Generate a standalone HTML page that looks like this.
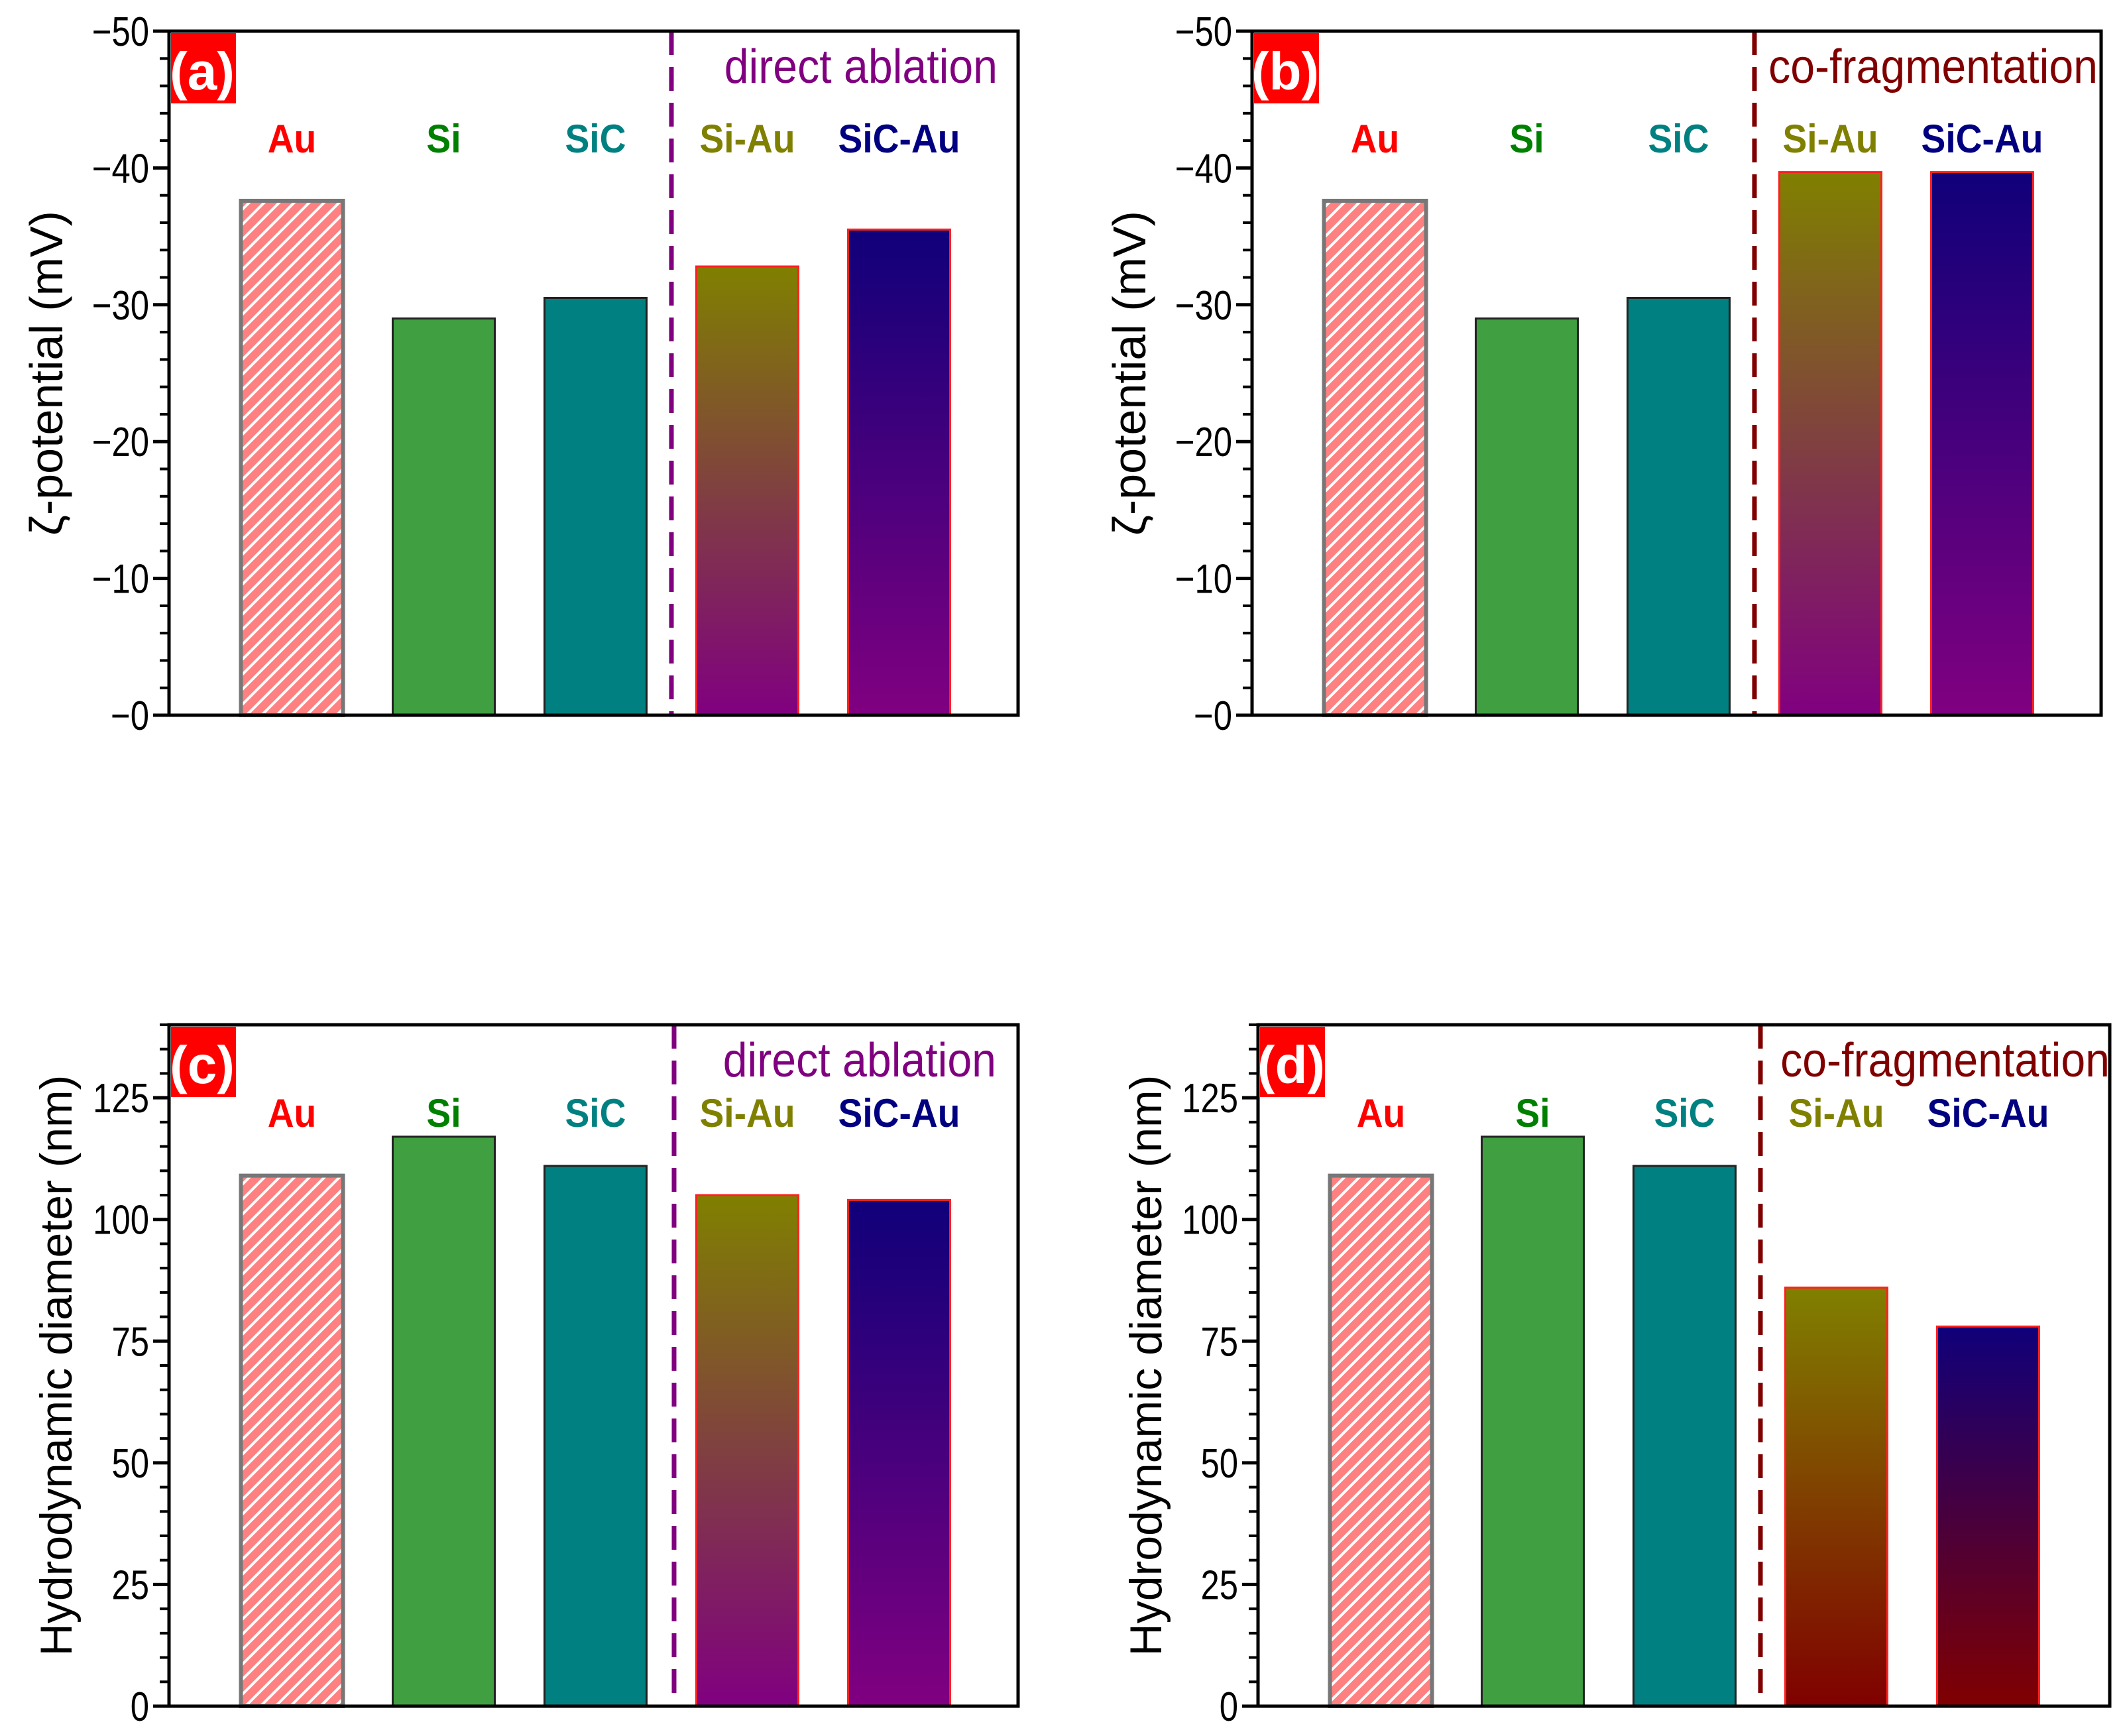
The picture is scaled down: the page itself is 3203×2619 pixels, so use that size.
<!DOCTYPE html>
<html><head><meta charset="utf-8"><style>
html,body{margin:0;padding:0;background:#fff;}
svg{display:block;}
text{font-family:"Liberation Sans",sans-serif;}
</style></head><body>
<svg id="fig" width="3203" height="2619" viewBox="0 0 3203 2619" xmlns="http://www.w3.org/2000/svg">
<defs>
<pattern id="hatch" patternUnits="userSpaceOnUse" width="16" height="16" patternTransform="rotate(45)">
<rect width="16" height="16" fill="#ff8080"/><rect x="0" y="0" width="4" height="16" fill="#fff"/>
</pattern>
<linearGradient id="gSiAu" x1="0" y1="0" x2="0" y2="1"><stop offset="0" stop-color="#808000"/><stop offset="1" stop-color="#800080"/></linearGradient>
<linearGradient id="gSiCAu" x1="0" y1="0" x2="0" y2="1"><stop offset="0" stop-color="#10007a"/><stop offset="1" stop-color="#800080"/></linearGradient>
<linearGradient id="gSiAuD" x1="0" y1="0" x2="0" y2="1"><stop offset="0" stop-color="#808000"/><stop offset="1" stop-color="#800000"/></linearGradient>
<linearGradient id="gSiCAuD" x1="0" y1="0" x2="0" y2="1"><stop offset="0" stop-color="#10007a"/><stop offset="1" stop-color="#800000"/></linearGradient>
</defs>
</svg>
<script>
const categories = ["Au","Si","SiC","Si-Au","SiC-Au"];
const zetaA = [-37.6,-29.0,-30.5,-32.8,-35.5];
const zetaB = [-37.6,-29.0,-30.5,-39.7,-39.7];
const diamC = [109,117,111,105,104];
const diamD = [109,117,111,86,78];
const zetaTicks = [0,-10,-20,-30,-40,-50];
const zetaTickLabels = ["\u22120","\u221210","\u221220","\u221230","\u221240","\u221250"];
const diamTicks = [0,25,50,75,100,125];
const diamTickLabels = ["0","25","50","75","100","125"];

const NS="http://www.w3.org/2000/svg";
const svg=document.getElementById('fig');
function mk(tag,attrs,parent){const e=document.createElementNS(NS,tag);for(const k in attrs)e.setAttribute(k,attrs[k]);(parent||svg).appendChild(e);return e;}
function ctext(x,y,sx,attrs,parent){attrs.x=0;attrs.y=0;attrs.transform=`translate(${x} ${y}) scale(${sx} 1)`;return mk('text',attrs,parent);}

const catColors=["#ff0000","#008000","#008080","#808000","#000080"];
function panel(p){
  const g=mk('g',{});
  
  
  const L=p.left,R=p.right,T=p.top,B=p.bottom;
  const y=v=>B-(v-p.ymin)/(p.ymax-p.ymin)*(B-T);
  const step=229;
  const x=i=>L+(i+p.off)*step;
  const bw=154;
  p.values.forEach((v,i)=>{
    let fill,stroke,sw=3;
    if(i===0){fill="url(#hatch)";stroke="#777";sw=6;}
    else if(i===1){fill="#409f40";stroke="#222";}
    else if(i===2){fill="#008080";stroke="#222";}
    else if(i===3){fill=p.grad[0];stroke="#ff2020";}
    else {fill=p.grad[1];stroke="#ff2020";}
    const r=mk('rect',{x:x(i)-bw/2,y:y(v),width:bw,height:y(p.ymin)-y(v),fill:fill,stroke:stroke,'stroke-width':sw},g);
    
    
  });
  categories.forEach((c,i)=>{
    const t=ctext(x(i),p.catY+2,0.92,{'text-anchor':'middle','font-size':60,'font-weight':'bold',fill:catColors[i]},g);
    t.textContent=c;
    
    
  });
  const dl=mk('line',{x1:x(2.5)+p.dx,x2:x(2.5)+p.dx,y1:T,y2:B,stroke:p.dashColor,'stroke-width':7,'stroke-dasharray':'36,18'},g);
  
  
  const gt=ctext(p.groupX,T+78,0.92,{'text-anchor':'end','font-size':72,fill:p.dashColor},g);
  gt.textContent=p.groupText;
  
  
  const box=mk('rect',{x:L,y:T,width:R-L,height:B-T,fill:'none',stroke:'#000','stroke-width':5},g);
  
  
  const n=Math.round((p.ymax-p.ymin)/p.minor);
  for(let k=0;k<=n;k++){const v=p.ymin+k*p.minor;
    mk('line',{x1:L-14,x2:L,y1:y(v),y2:y(v),stroke:'#000','stroke-width':4},g);
  }
  p.ticks.forEach((v,i)=>{
    const tl=mk('line',{x1:L-24,x2:L,y1:y(v),y2:y(v),stroke:'#000','stroke-width':5},g);
    
    
    const tx=ctext(L-30,y(v)+22,0.82,{'text-anchor':'end','font-size':62,fill:'#000'},g);
    tx.textContent=p.tickLabels[i];
    
    
  });
  const cy=(T+B)/2;
  const yt=mk('text',{x:0,y:0,'text-anchor':'middle','font-size':p.titleSize,fill:'#000',transform:`translate(${p.titleX} ${cy}) rotate(-90)`},g);
  yt.textContent=p.title;
  
  
  const pr=mk('rect',{x:L+3,y:T+3,width:98,height:106,fill:'#ff0000'},g);
  
  
  const pt=mk('text',{x:L+50,y:T+88,'text-anchor':'middle','font-size':80,'font-weight':'bold',fill:'#fff'},g);
  pt.textContent='('+p.id+')';
  
  
}
const zt="\u03B6-potential (mV)", dt="Hydrodynamic diameter (nm)";
panel({id:'a',left:255,right:1536,top:47,bottom:1079,ymin:0,ymax:-50,minor:-2,ticks:zetaTicks,tickLabels:zetaTickLabels,values:zetaA,off:0.81,dx:0,grad:["url(#gSiAu)","url(#gSiCAu)"],dashColor:'#800080',groupText:'direct ablation',groupX:1505,catY:228,title:zt,titleX:94,titleSize:70});
panel({id:'b',left:1889,right:3170,top:47,bottom:1079,ymin:0,ymax:-50,minor:-2,ticks:zetaTicks,tickLabels:zetaTickLabels,values:zetaB,off:0.81,dx:0,grad:["url(#gSiAu)","url(#gSiCAu)"],dashColor:'#800000',groupText:'co-fragmentation',groupX:3165,catY:228,title:zt,titleX:1728,titleSize:70});
panel({id:'c',left:255,right:1536,top:1546,bottom:2574,ymin:0,ymax:140,minor:5,ticks:diamTicks,tickLabels:diamTickLabels,values:diamC,off:0.81,dx:4,grad:["url(#gSiAu)","url(#gSiCAu)"],dashColor:'#800080',groupText:'direct ablation',groupX:1503,catY:1698,title:dt,titleX:108,titleSize:68});
panel({id:'d',left:1898,right:3183,top:1546,bottom:2574,ymin:0,ymax:140,minor:5,ticks:diamTicks,tickLabels:diamTickLabels,values:diamD,off:0.81,dx:0,grad:["url(#gSiAuD)","url(#gSiCAuD)"],dashColor:'#800000',groupText:'co-fragmentation',groupX:3183,catY:1698,title:dt,titleX:1752,titleSize:68});
</script>
</body></html>
